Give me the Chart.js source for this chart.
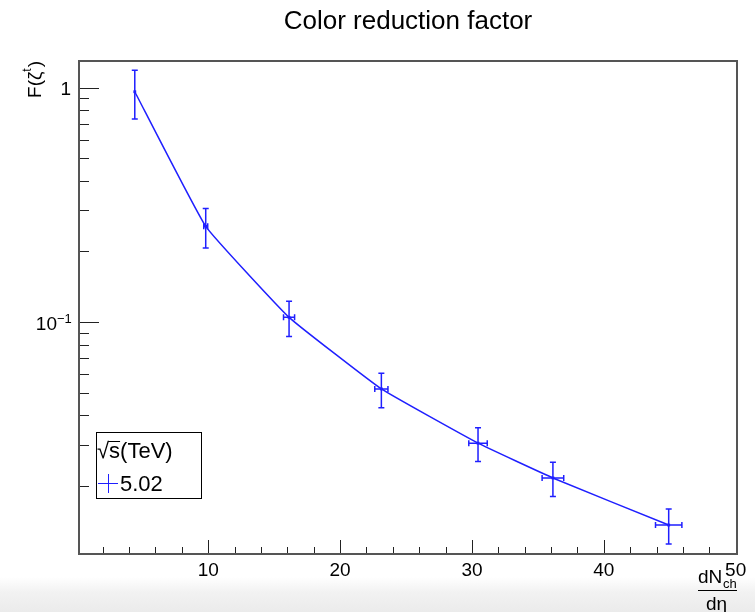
<!DOCTYPE html>
<html>
<head>
<meta charset="utf-8">
<script src="https://cdn.jsdelivr.net/npm/chart.js@4/dist/chart.umd.min.js"></script>
<style>
html, body { margin: 0; padding: 0; }
body {
    width: 755px; height: 612px; overflow: hidden;
    background: linear-gradient(to bottom, #fff 0px, #fff 577px, #f2f2f2 592px, #ebebeb 612px);
}
#wrap { position: relative; width: 755px; height: 612px; }
</style>
</head>
<body>
<div id="wrap"><canvas id="colorChart"></canvas></div>
<script>
// dN_ch/deta points and the colour reduction factor F(zeta^t), sqrt(s) = 5.02 TeV
const multiplicity = [4.43, 9.81, 16.13, 23.13, 30.46, 36.14, 44.92];
const multiplicityErr = [0.0, 0.15, 0.42, 0.5, 0.7, 0.82, 1.0];
const reductionFactor = [0.961, 0.256, 0.1047, 0.0518, 0.0304, 0.0216, 0.0136];
const reductionErr = [0.225, 0.049, 0.018, 0.0087, 0.005, 0.0036, 0.0023];

// axis ticks
const xMajorTicks = [10, 20, 30, 40, 50];
const xMinorTicks = [2, 4, 6, 8, 12, 14, 16, 18, 22, 24, 26, 28, 32, 34, 36, 38, 42, 44, 46, 48];
const yMajorTicks = [0.1, 1];
const yMinorTicks = [0.02, 0.03, 0.04, 0.05, 0.06, 0.07, 0.08, 0.09, 0.2, 0.3, 0.4, 0.5, 0.6, 0.7, 0.8, 0.9];

const FONT = '"Liberation Sans", Arial, Helvetica, sans-serif';
const BLUE = '#1f1fff';

const points = multiplicity.map((x, i) => ({ x: x, y: reductionFactor[i] }));

// error bars, drawn through the chart scales
const errorBars = {
    id: 'errorBars',
    afterDatasetsDraw(chart) {
        const ctx = chart.ctx;
        const xs = chart.scales.x, ys = chart.scales.y;
        ctx.save();
        ctx.strokeStyle = BLUE;
        ctx.lineWidth = 1.5;
        for (let i = 0; i < multiplicity.length; i++) {
            const px = xs.getPixelForValue(multiplicity[i]);
            const py = ys.getPixelForValue(reductionFactor[i]);
            const top = ys.getPixelForValue(reductionFactor[i] + reductionErr[i]);
            const bot = ys.getPixelForValue(reductionFactor[i] - reductionErr[i]);
            ctx.beginPath();
            ctx.moveTo(px, top); ctx.lineTo(px, bot);
            ctx.moveTo(px - 3, top); ctx.lineTo(px + 3, top);
            ctx.moveTo(px - 3, bot); ctx.lineTo(px + 3, bot);
            if (multiplicityErr[i] > 0) {
                const l = xs.getPixelForValue(multiplicity[i] - multiplicityErr[i]);
                const r = xs.getPixelForValue(multiplicity[i] + multiplicityErr[i]);
                ctx.moveTo(l, py); ctx.lineTo(r, py);
                ctx.moveTo(l, py - 3); ctx.lineTo(l, py + 3);
                ctx.moveTo(r, py - 3); ctx.lineTo(r, py + 3);
            }
            ctx.stroke();
        }
        ctx.restore();
    }
};

// ROOT-like frame, inward ticks, labels, titles and legend
const rootFrame = {
    id: 'rootFrame',
    afterDraw(chart) {
        const ctx = chart.ctx;
        const a = chart.chartArea;
        const xs = chart.scales.x, ys = chart.scales.y;
        ctx.save();

        // ticks
        ctx.strokeStyle = '#222';
        ctx.lineWidth = 1;
        ctx.beginPath();
        xMajorTicks.forEach(v => {
            const p = Math.round(xs.getPixelForValue(v)) + 0.5;
            ctx.moveTo(p, a.bottom); ctx.lineTo(p, a.bottom - 14);
        });
        xMinorTicks.forEach(v => {
            const p = Math.round(xs.getPixelForValue(v)) + 0.5;
            ctx.moveTo(p, a.bottom); ctx.lineTo(p, a.bottom - 7);
        });
        yMajorTicks.forEach(v => {
            const p = Math.round(ys.getPixelForValue(v)) + 0.5;
            ctx.moveTo(a.left, p); ctx.lineTo(a.left + 20, p);
        });
        yMinorTicks.forEach(v => {
            const p = Math.round(ys.getPixelForValue(v)) + 0.5;
            ctx.moveTo(a.left, p); ctx.lineTo(a.left + 10, p);
        });
        ctx.stroke();

        // frame
        ctx.strokeStyle = '#555';
        ctx.lineWidth = 2;
        ctx.strokeRect(a.left, a.top, a.right - a.left, a.bottom - a.top);

        ctx.fillStyle = '#000';
        // x tick labels
        ctx.font = '19px ' + FONT;
        ctx.textAlign = 'center';
        ctx.textBaseline = 'alphabetic';
        xMajorTicks.forEach(v => {
            ctx.fillText(String(v), xs.getPixelForValue(v), 576);
        });

        // y tick labels
        ctx.textAlign = 'right';
        ctx.fillText('1', a.left - 8, ys.getPixelForValue(1) + 7);
        const p01 = ys.getPixelForValue(0.1);
        ctx.fillText('10', 57, p01 + 8);
        ctx.textAlign = 'left';
        ctx.font = '13px ' + FONT;
        ctx.fillText('\u22121', 57, p01 + 1);

        // title
        ctx.font = '26px ' + FONT;
        ctx.textAlign = 'center';
        ctx.fillText('Color reduction factor', 408, 29);

        // y axis title F(zeta^t)
        ctx.save();
        ctx.translate(41, a.top);
        ctx.rotate(-Math.PI / 2);
        ctx.textAlign = 'left';
        ctx.font = '19px ' + FONT;
        const w1 = ctx.measureText('F(\u03B6').width;
        const w3 = ctx.measureText(')').width;
        ctx.font = '12px ' + FONT;
        const w2 = ctx.measureText('t').width;
        let x0 = -(w1 + w2 + w3 + 1);
        ctx.font = '19px ' + FONT;
        ctx.fillText('F(\u03B6', x0, 0);
        ctx.font = '12px ' + FONT;
        ctx.fillText('t', x0 + w1, -10);
        ctx.font = '19px ' + FONT;
        ctx.fillText(')', x0 + w1 + w2 + 1, 0);
        ctx.restore();

        // x axis title dN_ch / deta
        ctx.textAlign = 'left';
        ctx.font = '19px ' + FONT;
        ctx.fillText('dN', 698, 583);
        ctx.font = '13px ' + FONT;
        ctx.fillText('ch', 723, 588);
        ctx.font = '19px ' + FONT;
        ctx.fillText('d\u03B7', 706, 610);
        ctx.strokeStyle = '#000';
        ctx.lineWidth = 1;
        ctx.beginPath();
        ctx.moveTo(698, 590.5); ctx.lineTo(737, 590.5);
        ctx.stroke();

        // legend
        ctx.fillStyle = '#fff';
        ctx.fillRect(96, 432, 106, 67);
        ctx.strokeStyle = '#000';
        ctx.strokeRect(96.5, 432.5, 105, 66);
        ctx.fillStyle = '#000';
        ctx.font = '22px ' + FONT;
        ctx.fillText('\u221As(TeV)', 97, 458);
        const sw = ctx.measureText('\u221A').width;
        const sw2 = ctx.measureText('s').width;
        ctx.beginPath();
        ctx.moveTo(97 + sw - 1, 441.5); ctx.lineTo(97 + sw + sw2, 441.5);
        ctx.stroke();
        ctx.fillText('5.02', 120, 491);
        ctx.strokeStyle = BLUE;
        ctx.beginPath();
        ctx.moveTo(98, 483.5); ctx.lineTo(118, 483.5);
        ctx.moveTo(108.5, 474); ctx.lineTo(108.5, 493);
        ctx.stroke();

        ctx.restore();
    }
};

const ctx = document.getElementById('colorChart').getContext('2d');

const colorChart = new Chart(ctx, {
    type: 'scatter',
    data: {
        datasets: [{
            label: '5.02',
            data: points,
            showLine: true,
            borderColor: BLUE,
            backgroundColor: BLUE,
            borderWidth: 1.5,
            tension: 0.1,
            pointStyle: 'rect',
            pointRadius: 2,
            pointBorderWidth: 0,
            pointBackgroundColor: BLUE
        }]
    },
    options: {
        responsive: true,
        maintainAspectRatio: false,
        animation: false,
        layout: {
            padding: { left: 79, top: 61, right: 18, bottom: 58 }
        },
        plugins: {
            legend: { display: false },
            tooltip: { enabled: false }
        },
        scales: {
            x: {
                type: 'linear',
                min: 0.2,
                max: 50.1,
                display: false
            },
            y: {
                type: 'logarithmic',
                min: 0.01023,
                max: 1.30,
                display: false
            }
        }
    },
    plugins: [errorBars, rootFrame]
});
</script>
</body>
</html>
